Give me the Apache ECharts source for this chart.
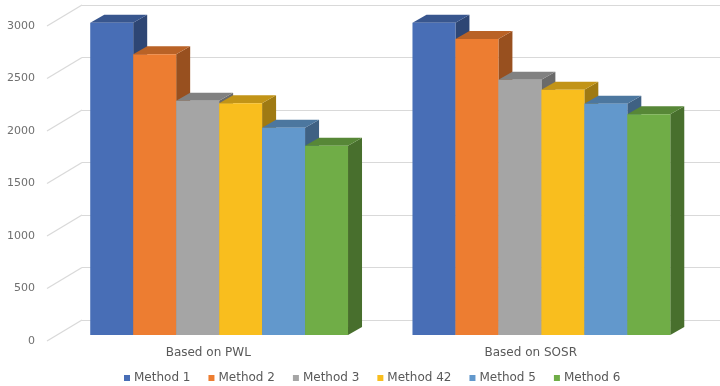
<!DOCTYPE html>
<html>
<head>
<meta charset="utf-8">
<title>Method comparison</title>
<script src="https://cdn.jsdelivr.net/npm/echarts@6/dist/echarts.min.js"></script>
<style>
  html, body { margin: 0; padding: 0; background: #ffffff; }
  #chart { width: 720px; height: 386px; }
</style>
</head>
<body>
<div id="chart"></div>
<script>
// Categories, series and axis ticks
const categories = ['Based on PWL', 'Based on SOSR'];
const methodNames = ['Method 1', 'Method 2', 'Method 3', 'Method 42', 'Method 5', 'Method 6'];
const method1 = [2975, 2975];
const method2 = [2673, 2819];
const method3 = [2231, 2431];
const method42 = [2206, 2336];
const method5 = [1974, 2203];
const method6 = [1803, 2102];
const yTicks = [0, 500, 1000, 1500, 2000, 2500, 3000];

const seriesValues = [method1, method2, method3, method42, method5, method6];
const palette = ['#486EB6', '#ED7D31', '#A5A5A5', '#F9BE1E', '#6298CC', '#70AD47'];

// Oblique projection offsets for the bar depth and for the wall depth
const BAR_DX = 14, BAR_DY = -8;
const WALL_DX = 35, WALL_DY = -21;
const GROUP_SHARE = 0.8;

function shade(hex, f) {
  const n = parseInt(hex.slice(1), 16);
  const r = Math.round(((n >> 16) & 255) * f);
  const g = Math.round(((n >> 8) & 255) * f);
  const b = Math.round((n & 255) * f);
  return 'rgb(' + r + ',' + g + ',' + b + ')';
}

function barRenderer(idx) {
  const count = seriesValues.length;
  const base = palette[idx];
  return function (params, api) {
    const cat = api.value(0);
    const val = api.value(1);
    const topPt = api.coord([cat, val]);
    const basePt = api.coord([cat, 0]);
    const band = api.size([1, 0])[0];
    const groupW = band * GROUP_SHARE;
    const w = groupW / count;
    const x0 = topPt[0] - groupW / 2 + idx * w;
    const x1 = x0 + w;
    const yT = topPt[1];
    const yB = basePt[1];
    return {
      type: 'group',
      children: [
        {
          type: 'polygon',
          shape: { points: [[x1, yT], [x1 + BAR_DX, yT + BAR_DY], [x1 + BAR_DX, yB + BAR_DY], [x1, yB]] },
          style: { fill: shade(base, 0.64) }
        },
        {
          type: 'polygon',
          shape: { points: [[x0, yT], [x1, yT], [x1 + BAR_DX, yT + BAR_DY], [x0 + BAR_DX, yT + BAR_DY]] },
          style: { fill: shade(base, 0.78) }
        },
        {
          type: 'rect',
          shape: { x: x0, y: yT, width: w, height: yB - yT },
          style: { fill: base }
        }
      ]
    };
  };
}

function diagonalRenderer(params, api) {
  const p = api.coord([0, api.value(1)]);
  const x = params.coordSys.x;
  return {
    type: 'line',
    shape: { x1: x, y1: p[1], x2: x + WALL_DX, y2: p[1] + WALL_DY },
    style: { stroke: '#d9d9d9', lineWidth: 1.2 }
  };
}

const yBase = { type: 'value', min: 0, max: 3000, interval: 500 };

const barSeries = seriesValues.map(function (vals, i) {
  return {
    name: methodNames[i],
    type: 'custom',
    xAxisIndex: 0,
    yAxisIndex: 0,
    renderItem: barRenderer(i),
    itemStyle: { color: palette[i] },
    encode: { x: 0, y: 1 },
    data: vals.map(function (v, c) { return [c, v]; }),
    z: 5
  };
});

const option = {
  backgroundColor: '#ffffff',
  animation: false,
  color: palette,
  textStyle: { fontFamily: 'DejaVu Sans' },
  grid: [
    // plane of the bar fronts
    { left: 58, right: 17.5, top: 20, bottom: 51 },
    // front edge of the floor: axis labels
    { left: 47, right: 28, top: 26, bottom: 45 },
    // back wall: gridlines
    { left: 82, right: 0, top: 5, bottom: 66 }
  ],
  xAxis: [
    { gridIndex: 0, type: 'category', data: categories, show: false },
    {
      gridIndex: 1, type: 'category', data: categories,
      axisLine: { show: false }, axisTick: { show: false },
      axisLabel: { color: '#595959', fontSize: 12, margin: 6, fontFamily: 'DejaVu Sans' }
    },
    { gridIndex: 2, type: 'category', data: categories, show: false }
  ],
  yAxis: [
    Object.assign({ gridIndex: 0, show: false }, yBase),
    Object.assign({
      gridIndex: 1,
      axisLine: { show: false }, axisTick: { show: false }, splitLine: { show: false },
      axisLabel: {
        color: '#6f6f6f', fontSize: 11, margin: 12, fontFamily: 'DejaVu Sans',
        formatter: function (v) { return String(v); }
      }
    }, yBase),
    Object.assign({
      gridIndex: 2,
      axisLine: { show: false }, axisTick: { show: false },
      axisLabel: { show: false },
      splitLine: { show: true, lineStyle: { color: '#d9d9d9', width: 1.2 } }
    }, yBase)
  ],
  legend: {
    data: methodNames,
    left: 119,
    top: 367,
    icon: 'rect',
    itemWidth: 6,
    itemHeight: 6,
    itemGap: 18,
    textStyle: { color: '#595959', fontSize: 12, fontFamily: 'DejaVu Sans', padding: [0, 0, 0, -1] }
  },
  series: [
    {
      name: 'wall-edges',
      type: 'custom',
      xAxisIndex: 1,
      yAxisIndex: 1,
      renderItem: diagonalRenderer,
      encode: { x: 0, y: 1 },
      data: yTicks.map(function (t) { return [0, t]; }),
      silent: true,
      z: 1
    }
  ].concat(barSeries)
};

const chart = echarts.init(document.getElementById('chart'), null, { renderer: 'canvas' });
chart.setOption(option);
</script>
</body>
</html>
